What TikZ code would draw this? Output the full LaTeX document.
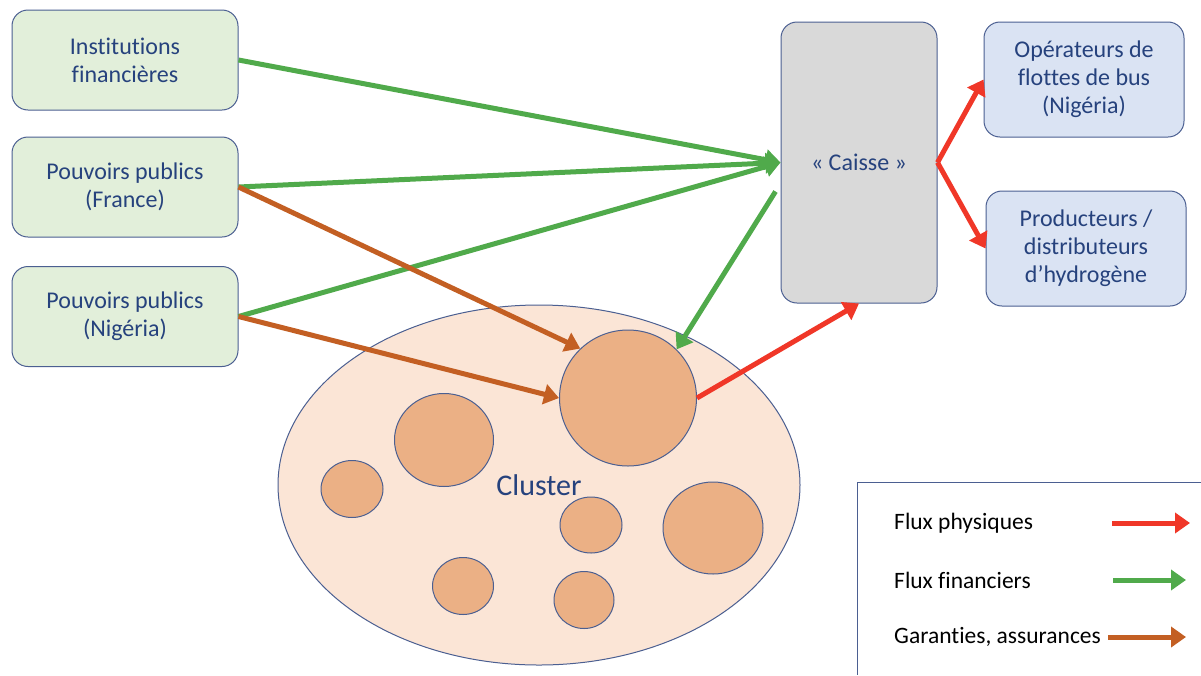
\documentclass[tikz,border=0pt]{standalone}
\usepackage{fontspec}
\setmainfont{Carlito}[Ligatures=NoCommon]
\usetikzlibrary{positioning,arrows.meta,shapes.geometric}
\definecolor{BoxLine}{RGB}{75,95,145}
\definecolor{TxtBlue}{RGB}{38,66,125}
\definecolor{SrcGreen}{RGB}{226,239,218}
\definecolor{DstBlue}{RGB}{218,227,243}
\definecolor{CaisseGray}{RGB}{217,217,217}
\definecolor{ClusterPeach}{RGB}{251,229,214}
\definecolor{FirmOrange}{RGB}{235,176,133}
\definecolor{FinGreen}{RGB}{80,170,75}
\definecolor{PhysRed}{RGB}{240,55,40}
\definecolor{GarBrown}{RGB}{195,95,35}
\tikzset{actor/.style={draw=BoxLine,line width=1pt,rounded corners=16pt,align=center,text=TxtBlue,font=\fontsize{24}{28}\selectfont,inner sep=0pt}, srcbox/.style={actor,fill=SrcGreen,minimum width=226pt,minimum height=100pt}, dstbox/.style={actor,fill=DstBlue,minimum width=200pt,minimum height=115pt}, firm/.style={ellipse,draw=BoxLine,line width=1pt,fill=FirmOrange,inner sep=0pt}, flow/.style={line width=5pt,-{Triangle[length=15pt,width=20pt]}}, fin/.style={flow,draw=FinGreen,fill=FinGreen}, phys/.style={flow,draw=PhysRed,fill=PhysRed}, gar/.style={flow,draw=GarBrown,fill=GarBrown}, legtxt/.style={anchor=west,inner sep=0pt,font=\fontsize{23.5}{28}\selectfont}}

\begin{document}
\begin{tikzpicture}[x=1pt,y=-1pt]
\fill[white] (0,0) rectangle (1201,675);
\useasboundingbox (0,0) rectangle (1201,675);
% acteurs
\node[srcbox] (inst) at (125,60) {Institutions\\financières};
\node[srcbox] (fr) at (125,187) {Pouvoirs publics\\(France)};
\node[srcbox] (ng) at (125,316.5) {Pouvoirs publics\\(Nigéria)};
\node[actor,fill=CaisseGray,minimum width=156pt,minimum height=281pt] (caisse) at (859,162.5) {« Caisse »};
\node[dstbox] (op) at (1084,79.5) {Opérateurs de\\flottes de bus\\(Nigéria)};
\node[dstbox] (prod) at (1086,248.5) {Producteurs /\\distributeurs\\d’hydrogène};
% cluster
\node[ellipse,draw=BoxLine,line width=1pt,fill=ClusterPeach,minimum width=522pt,minimum height=360pt,text=TxtBlue,font=\fontsize{30}{34}\selectfont] (cluster) at (539,485) {Cluster};
\node[firm,minimum width=137pt,minimum height=136pt] (big) at (628,398) {};
\foreach \cx/\cy/\w/\h [count=\i] in {444/440/99/93, 352/489/62/57, 591/525/62/56, 713/528/100/92, 463/586/61/57, 584/600/60/57}
  \node[firm,minimum width=\w pt,minimum height=\h pt] (f\i) at (\cx,\cy) {};
% flux
\draw[fin] (inst.east) -- (caisse.west);
\draw[fin] (fr.east) -- (caisse.west);
\draw[fin] (ng.east) -- (caisse.west);
\draw[fin] ([xshift=-5pt,yshift=-29pt]caisse.west) -- (big.45);
\draw[gar] (fr.east) -- (big.134);
\draw[gar] (ng.east) -- (big.west);
\draw[phys] (big.east) -- (caisse.south);
\draw[phys] (caisse.east) -- (op.west);
\draw[phys] (caisse.east) -- (prod.west);
% legende
\draw[draw=BoxLine,line width=1pt] (1201,482) -| (857,675);
\node[legtxt] (lphys) at (894,523) {Flux physiques};
\node[legtxt] (lfin) at (894,580) {Flux financiers};
\node[legtxt] (lgar) at (894,637) {Garanties, assurances};
\coordinate (pa) at (1112,523);
\coordinate (pb) at (1190,523);
\coordinate (fa) at (1113,580);
\coordinate (fb) at (1186,580);
\coordinate (ga) at (1108,637);
\coordinate (gb) at (1186,637);
\draw[phys] (pa) -- (pb);
\draw[fin] (fa) -- (fb);
\draw[gar] (ga) -- (gb);
\end{tikzpicture}
\end{document}
